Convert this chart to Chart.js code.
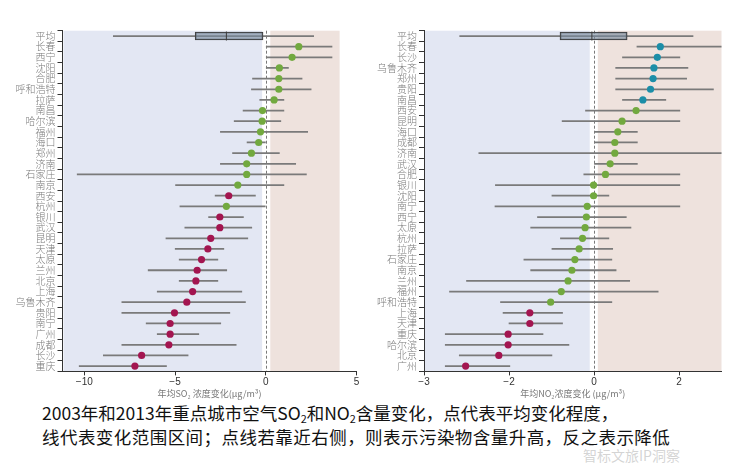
<!DOCTYPE html>
<html><head><meta charset="utf-8">
<script src="https://cdn.jsdelivr.net/npm/chart.js@4.4.1/dist/chart.umd.min.js"></script>
<style>
body{margin:0;background:#fff;width:732px;height:464px;overflow:hidden;position:relative;font-family:'Noto Sans CJK SC',sans-serif}
#c1{position:absolute;left:0;top:0}
#c2{position:absolute;left:366px;top:0}
#cap{position:absolute;left:42px;top:401px;font-size:17.5px;line-height:24px;color:#111;white-space:nowrap}
#cap sub{font-size:0.62em;vertical-align:-0.3em;line-height:0}
#cap .l2{letter-spacing:0.45px}
#wm{position:absolute;left:583px;top:445px;font-size:14px;color:rgba(170,170,170,0.5);white-space:nowrap}
</style></head>
<body>
<canvas id="c1" width="366" height="400"></canvas>
<canvas id="c2" width="366" height="400"></canvas>
<div id="cap">2003年和2013年重点城市空气SO<sub>2</sub>和NO<sub>2</sub>含量变化，点代表平均变化程度，<br><span class="l2">线代表变化范围区间；点线若靠近右侧，则表示污染物含量升高，反之表示降低</span></div>
<div id="wm">智标文旅IP洞察</div>
<script>
// ---------- SO2 panel ----------
const SO2_CITIES = ['长春','西宁','沈阳','合肥','呼和浩特','拉萨','南昌','哈尔滨','福州','海口','郑州','济南','石家庄','南京','西安','杭州','银川','武汉','昆明','天津','太原','兰州','北京','上海','乌鲁木齐','贵阳','南宁','广州','成都','长沙','重庆'];
const SO2_MEAN = [1.82,1.45,0.75,0.72,0.72,0.46,-0.18,-0.2,-0.29,-0.39,-0.79,-1.05,-1.05,-1.54,-2.04,-2.17,-2.53,-2.53,-3.03,-3.19,-3.54,-3.78,-3.85,-4.03,-4.35,-5.03,-5.27,-5.27,-5.34,-6.84,-7.21];
const SO2_LOW = [0,0,0,-0.73,-0.79,-0.33,-1.25,-1.74,-2.5,-1.03,-1.83,-2.5,-10.39,-4.97,-2.79,-4.73,-3.15,-4.46,-5.5,-4.99,-4.77,-6.48,-4.77,-5.98,-7.93,-7.93,-6.59,-5.98,-7.93,-8.95,-10.28];
const SO2_HIGH = [3.65,3.65,1.25,2.0,2.5,1.0,1.0,0.83,2.31,-0.02,0.75,1.65,2.24,1.0,-0.57,0,-1.23,-0.77,-0.99,-2.31,-2.64,-2.15,-2.64,-1.32,-1.12,-1.98,-2.48,-3.69,-1.63,-4.28,-5.47];
const SO2_GROUP = ['B','B','B','B','B','B','B','B','B','B','B','B','B','B','C','B','C','C','C','C','C','C','C','C','C','C','C','C','C','C','C'];
const SO2_BOX = [-8.4,-3.89,-2.17,-0.15,2.64]; // whisker low, q1, median, q3, whisker high
const SO2_TICKS = [-10,-5,0,5];
const SO2_TICK_LABELS = ['−10','−5','0','5'];

// ---------- NO2 panel ----------
const NO2_CITIES = ['长春','长沙','乌鲁木齐','郑州','贵阳','南昌','西安','昆明','海口','成都','济南','武汉','合肥','银川','沈阳','南宁','西宁','太原','杭州','拉萨','石家庄','南京','兰州','福州','呼和浩特','上海','天津','重庆','哈尔滨','北京','广州'];
const NO2_MEAN = [1.56,1.49,1.41,1.39,1.33,1.15,0.99,0.66,0.56,0.49,0.49,0.38,0.27,-0.01,-0.01,-0.16,-0.18,-0.21,-0.27,-0.35,-0.45,-0.52,-0.61,-0.77,-1.02,-1.51,-1.51,-2.02,-2.02,-2.24,-3.02];
const NO2_LOW = [1.01,0.67,0.51,0.51,0.51,0.67,-0.2,-0.75,0,0,-2.71,0,-0.24,-2.32,-0.99,-2.33,-1.33,-1.49,-0.79,-0.99,-1.65,-1.49,-3.0,-3.4,-2.2,-2.14,-2.0,-3.5,-3.5,-3.17,-3.5];
const NO2_HIGH = [3.1,2.02,2.21,2.18,2.81,1.69,2.02,2.02,1.02,1.02,3.1,1.02,2.02,2.02,0.35,2.02,0.76,0.87,0.35,0.44,0.42,0.52,0.84,1.51,0.42,-0.74,-0.74,-1.2,-0.59,-0.99,-1.98];
const NO2_GROUP = ['A','A','A','A','A','A','B','B','B','B','B','B','B','B','B','B','B','B','B','B','B','B','B','B','B','C','C','C','C','C','C'];
const NO2_BOX = [-3.16,-0.8,-0.05,0.78,2.33];
const NO2_TICKS = [-4,-2,0,2];
const NO2_TICK_LABELS = ['−3','−2','0','2'];

const AVG_LABEL = '平均';
const GROUP_COLORS = {A:'#1b8ea8', B:'#72a93f', C:'#a31550'};

const bandsPlugin = {
  id:'bands',
  beforeDraw(chart, args, opts){
    const {ctx, chartArea:{top,bottom,left,right}, scales:{x}} = chart;
    ctx.save();
    opts.bands.forEach(b=>{
      const x0 = Math.max(left+1, x.getPixelForValue(b.from));
      const x1 = Math.min(right, x.getPixelForValue(b.to));
      ctx.fillStyle = b.color;
      ctx.fillRect(x0, top, x1-x0, bottom-top);
    });
    const zx = Math.round(x.getPixelForValue(0))+0.5;
    ctx.strokeStyle = '#7a7a7a'; ctx.lineWidth = 1; ctx.setLineDash([3,2]);
    ctx.beginPath(); ctx.moveTo(zx, top); ctx.lineTo(zx, bottom); ctx.stroke();
    ctx.restore();
  }
};

function makeChart(id, cfg){
  const labels = [AVG_LABEL, ...cfg.cities];
  const ranges = [[cfg.box[0], cfg.box[4]], ...cfg.low.map((lo,i)=>[lo, cfg.high[i]])];
  const boxData = labels.map((_,i)=> i===0 ? [cfg.box[1], cfg.box[3]] : null);
  const medData = labels.map((_,i)=> i===0 ? cfg.box[2] : null);
  const ptData = [null, ...cfg.mean];
  const ptColors = ['rgba(0,0,0,0)', ...cfg.group.map(g=>GROUP_COLORS[g])];
  return new Chart(document.getElementById(id), {
    type:'bar',
    data:{
      labels,
      datasets:[
        {type:'line', indexAxis:'y', data:ptData, showLine:false, pointRadius:3.6, pointHoverRadius:3.6,
         pointBackgroundColor:ptColors, pointBorderWidth:0, order:1},
        {type:'line', indexAxis:'y', data:medData, showLine:false, pointStyle:'line', rotation:90, pointRadius:4.5,
         pointBorderColor:'#3c3c3c', pointBorderWidth:1, order:2},
        {type:'bar', indexAxis:'y', data:boxData, grouped:false, barThickness:8, backgroundColor:'rgba(118,136,156,0.6)',
         borderColor:'#3c3c3c', borderWidth:1, borderSkipped:false, order:3},
        {type:'bar', indexAxis:'y', data:ranges, grouped:false, barThickness:1.1, backgroundColor:'#7a7a7a', borderWidth:0, order:4}
      ]
    },
    options:{
      indexAxis:'y',
      responsive:false, animation:false, devicePixelRatio:1,
      layout:{padding:{left:0, right:cfg.padRight, top:30.7, bottom:0}},
      plugins:{legend:{display:false}, tooltip:{enabled:false}, bands:{bands:cfg.bands}},
      scales:{
        x:{type:'linear', min:cfg.min, max:cfg.max,
           afterBuildTicks:s=>{ s.ticks = cfg.ticks.map(v=>({value:v})); },
           afterFit:s=>{ s.height = 28.6; },
           ticks:{callback:(v,i)=>cfg.tickLabels[i], font:{family:'Liberation Sans', size:10}, color:'#333', padding:1, maxRotation:0},
           grid:{drawOnChartArea:false, drawTicks:true, tickLength:4, color:'#333'},
           border:{color:'#333', width:1},
           title:{display:true, text:cfg.title, font:{family:'Noto Sans CJK SC', size:9}, color:'#777', padding:{top:0,bottom:1}}
        },
        y:{type:'category', offset:true,
           afterFit:s=>{ s.width = cfg.yWidth; },
           ticks:{font:{family:'Noto Sans CJK SC', size:10, weight:'300'}, color:'#7a7a7a', padding:2, autoSkip:false},
           grid:{offset:true, drawOnChartArea:false, drawTicks:true, tickLength:5, color:'#333'},
           border:{color:'#333', width:1}
        }
      }
    },
    plugins:[bandsPlugin]
  });
}

makeChart('c1', {cities:SO2_CITIES, mean:SO2_MEAN, low:SO2_LOW, high:SO2_HIGH, group:SO2_GROUP, box:SO2_BOX,
  ticks:SO2_TICKS, tickLabels:SO2_TICK_LABELS, min:-11.2, max:5, yWidth:62.5, padRight:9.5,
  title:'年均SO₂ 浓度变化(μg/m³)',
  bands:[{from:-11.2, to:-0.2, color:'#e3e7f3'},{from:0.25, to:4.07, color:'#eee2dd'}]});

makeChart('c2', {cities:NO2_CITIES, mean:NO2_MEAN, low:NO2_LOW, high:NO2_HIGH, group:NO2_GROUP, box:NO2_BOX,
  ticks:NO2_TICKS, tickLabels:NO2_TICK_LABELS, min:-4, max:3, yWidth:58, padRight:10.5,
  title:'年均NO₂浓度变化 (μg/m³)',
  bands:[{from:-4, to:-0.1, color:'#e3e7f3'},{from:0.09, to:3, color:'#eee2dd'}]});
</script>
</body></html>
